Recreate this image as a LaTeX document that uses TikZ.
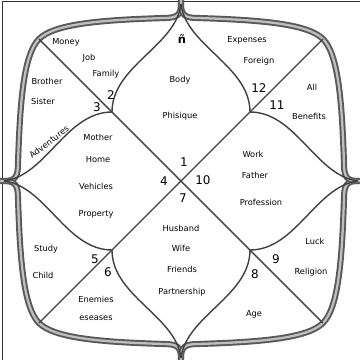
\documentclass[tikz,border=0pt]{standalone}
\usepackage{fontspec}
\setmainfont{DejaVu Sans}
\tikzset{
    frame/.style={draw=black!65, line width=1.1pt, double=black!25, double distance=1.3pt},
    divider/.style={draw=black!75, line width=0.8pt},
    sign/.style={font=\fontsize{4.7}{5}\selectfont, inner sep=0pt},
    housenum/.style={font=\fontsize{6.8}{7}\selectfont, inner sep=0pt}
}

\begin{document}
\begin{tikzpicture}[x=0.02cm, y=0.02cm]
    \useasboundingbox (-181,-179) rectangle (179,181);
    \draw[black!80, line width=0.5pt] (-178.5,-179) -- (-178.5,180) -- (179,180);
    % outer frame, one quarter at a time
    \foreach \a in {0,90,180,270}
        \draw[frame, rotate=\a] (0,181) -- (0,177) .. controls (0,166) and (-4,163) .. (-17,163)
            .. controls (-82,161) and (-127,157) .. (-142,142)
            .. controls (-157,127) and (-161,82) .. (-163,17)
            .. controls (-163,4) and (-166,0) .. (-177,0);
    \coordinate (tl) at (-142,142);
    \coordinate (tr) at (142,142);
    \coordinate (bl) at (-142,-142);
    \coordinate (br) at (142,-142);
    \draw[divider] (tl) -- (br);
    \draw[divider] (tr) -- (bl);
    % inner diamond
    \foreach \a in {0,90,180,270}
        \draw[divider, rotate=\a] (0,177) .. controls (-5,135) and (-69,115) .. (-69,69)
            .. controls (-115,69) and (-135,5) .. (-177,0);

    \node[font=\bfseries\fontsize{6.5}{7}\selectfont, inner sep=0pt] (asc) at (1,142) {ñ};
    \node[sign] (body) at (-1,101) {Body};
    \node[sign] (phisique) at (-1,65) {Phisique};
    \node[sign] (money) at (-115,139) {Money};
    \node[sign] (job) at (-92,123) {Job};
    \node[sign] (family) at (-75,107) {Family};
    \node[sign] (brother) at (-134,100) {Brother};
    \node[sign] (sister) at (-138,80) {Sister};
    \node[sign, rotate=37] (adventures) at (-132,39) {Adventures};
    \node[sign] (mother) at (-83,44) {Mother};
    \node[sign] (home) at (-83,21) {Home};
    \node[sign] (vehicles) at (-85,-5) {Vehicles};
    \node[sign] (property) at (-85,-33) {Property};
    \node[sign] (study) at (-135,-68) {Study};
    \node[sign] (child) at (-138,-94) {Child};
    \node[sign] (enemies) at (-85,-118) {Enemies};
    \node[sign] (eseases) at (-85,-137) {eseases};
    \node[sign] (husband) at (0,-47) {Husband};
    \node[sign] (wife) at (0,-67) {Wife};
    \node[sign] (friends) at (1,-88) {Friends};
    \node[sign] (partnership) at (1,-111) {Partnership};
    \node[sign] (age) at (73,-133) {Age};
    \node[sign] (luck) at (134,-60) {Luck};
    \node[sign] (religion) at (130,-91) {Religion};
    \node[sign] (work) at (72,27) {Work};
    \node[sign] (father) at (74,6) {Father};
    \node[sign] (profession) at (80,-21) {Profession};
    \node[sign] (expenses) at (66,141) {Expenses};
    \node[sign] (foreign) at (78,120) {Foreign};
    \node[sign] (all) at (131,94) {All};
    \node[sign] (benefits) at (128,65) {Benefits};

    \node[housenum] (h1) at (3,19) {1};
    \node[housenum] (h2) at (-70,86) {2};
    \node[housenum] (h3) at (-84,74) {3};
    \node[housenum] (h4) at (-17,0) {4};
    \node[housenum] (h5) at (-86,-78) {5};
    \node[housenum] (h6) at (-73,-91) {6};
    \node[housenum] (h7) at (2,-17) {7};
    \node[housenum] (h8) at (74,-93) {8};
    \node[housenum] (h9) at (95,-78) {9};
    \node[housenum] (h10) at (22,1) {10};
    \node[housenum] (h11) at (96,76) {11};
    \node[housenum] (h12) at (78,93) {12};
\end{tikzpicture}
\end{document}
